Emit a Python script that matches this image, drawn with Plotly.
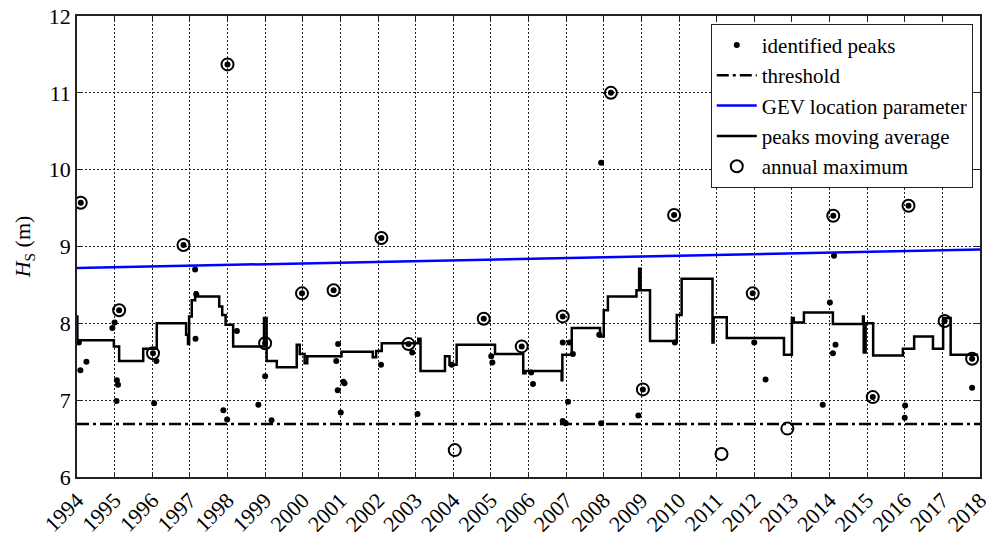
import plotly.graph_objects as go

# ---- data ----
years = list(range(1994, 2019))
y_ticks = [6, 7, 8, 9, 10, 11, 12]

peaks_t = [1994.05, 1994.09, 1994.25, 1994.10, 1994.94, 1995.00, 1995.12, 1995.06, 1995.09,
           1995.05, 1996.02, 1996.11, 1996.05, 1996.83, 1997.14, 1997.15, 1997.17, 1997.89,
           1997.99, 1998.00, 1998.25, 1998.82, 1999.00, 1999.00, 1999.17, 1999.98, 2000.82,
           2000.94, 2000.89, 2000.93, 2001.08, 2001.11, 2001.01, 2002.08, 2002.09, 2002.81,
           2002.91, 2003.05, 2003.96, 2004.81, 2005.01, 2005.04, 2005.82, 2006.07, 2006.12,
           2006.91, 2006.91, 2007.09, 2007.18, 2007.05, 2006.91, 2006.99, 2007.88, 2007.93,
           2007.93, 2008.19, 2008.92, 2009.04, 2009.87, 2009.89, 2011.96, 2012.00, 2012.30,
           2013.82, 2014.01, 2014.10, 2014.12, 2014.16, 2014.09, 2015.15, 2016.01, 2016.00,
           2016.10, 2017.06, 2017.79, 2017.79]
peaks_h = [7.75, 7.39, 7.50, 9.57, 7.94, 8.01, 8.17, 7.26, 7.20,
           6.99, 7.61, 7.51, 6.96, 9.02, 8.70, 7.80, 8.38, 6.87,
           6.75, 11.37, 7.90, 6.94, 7.74, 7.31, 6.74, 8.39, 8.43,
           7.73, 7.51, 7.13, 7.24, 7.22, 6.84, 7.46, 9.11, 7.73,
           7.62, 6.82, 7.46, 8.06, 7.57, 7.49, 7.70, 7.36, 7.21,
           8.09, 7.75, 7.75, 7.60, 6.98, 6.73, 6.70, 7.85, 10.09,
           6.70, 11.00, 6.80, 7.14, 9.41, 7.75, 8.39, 7.75, 7.27,
           6.94, 8.27, 9.40, 8.88, 7.72, 7.61, 7.04, 6.93, 6.77,
           9.53, 8.03, 7.54, 7.16]

threshold = 6.69
gev_t = [1994, 2018]
gev_mu = [8.72, 8.96]

ma_t = [1994.00, 1994.01, 1994.04, 1994.98, 1995.12, 1995.76, 1996.12, 1996.90, 1996.95,
        1996.98, 1997.05, 1997.14, 1997.18, 1997.78, 1997.86, 1997.95, 1998.15, 1998.97,
        1999.04, 1999.31, 1999.84, 1999.92, 2000.05, 2000.12, 2001.03, 2001.86, 2001.95,
        2002.10, 2003.07, 2003.13, 2003.78, 2003.90, 2004.09, 2005.11, 2005.86, 2005.92,
        2006.88, 2006.90, 2007.15, 2007.90, 2008.00, 2008.11, 2008.87, 2008.94, 2008.98,
        2009.23, 2009.94, 2010.07, 2010.89, 2010.92, 2011.27, 2012.79, 2013.00, 2013.05,
        2013.32, 2014.09, 2014.89, 2014.91, 2014.96, 2015.16, 2015.95, 2016.25, 2016.75,
        2017.02, 2017.22, 2017.95]
ma_h = [8.09, 7.74, 7.78, 7.70, 7.51, 7.67, 8.00, 7.85, 7.73,
        8.09, 8.30, 8.40, 8.35, 8.22, 8.11, 7.98, 7.70, 8.07,
        7.51, 7.43, 7.72, 7.60, 7.48, 7.57, 7.63, 7.56, 7.64,
        7.74, 7.80, 7.38, 7.57, 7.46, 7.72, 7.60, 7.35, 7.38,
        7.26, 7.59, 7.94, 7.83, 8.17, 8.35, 8.43, 8.71, 8.43,
        7.77, 8.11, 8.58, 7.75, 8.08, 7.81, 7.59, 8.07, 8.01,
        8.14, 7.99, 8.09, 7.62, 8.00, 7.58, 7.67, 7.83, 7.67,
        8.07, 7.59, 7.59]

amax_t = [1994.10, 1995.12, 1996.02, 1996.83, 1998.00, 1999.00, 1999.98, 2000.82, 2002.09,
          2002.81, 2004.04, 2004.81, 2005.82, 2006.91, 2008.19, 2009.04, 2009.87, 2011.13,
          2011.96, 2012.88, 2014.10, 2015.15, 2016.10, 2017.06, 2017.79]
amax_h = [9.57, 8.17, 7.61, 9.02, 11.37, 7.74, 8.39, 8.43, 9.11,
          7.73, 6.35, 8.06, 7.70, 8.09, 11.00, 7.14, 9.41, 6.30,
          8.39, 6.63, 9.40, 7.04, 9.53, 8.03, 7.54]

FONT = "Liberation Serif"

fig = go.Figure()
fig.add_trace(go.Scatter(x=peaks_t, y=peaks_h, mode="markers", name="identified peaks",
                         marker=dict(color="black", size=6, symbol="circle")))
fig.add_trace(go.Scatter(x=[years[0], years[-1]], y=[threshold, threshold], mode="lines",
                         name="threshold",
                         line=dict(color="black", width=2.5, dash="12px,4px,3px,4px")))
fig.add_trace(go.Scatter(x=gev_t, y=gev_mu, mode="lines", name="GEV location parameter",
                         line=dict(color="#0000ff", width=2.5)))
fig.add_trace(go.Scatter(x=ma_t, y=ma_h, mode="lines", name="peaks moving average",
                         line=dict(color="black", width=2.5, shape="hv")))
fig.add_trace(go.Scatter(x=amax_t, y=amax_h, mode="markers", name="annual maximum",
                         marker=dict(color="black", size=12, symbol="circle-open",
                                     line=dict(color="black", width=2))))

axis_common = dict(showline=True, linecolor="#222", linewidth=1.5, mirror="allticks",
                   ticks="inside", ticklen=5, tickcolor="#222",
                   showgrid=True, gridcolor="#222", gridwidth=1, griddash="2px,2px",
                   zeroline=False, automargin=False, ticklabeloverflow="allow",
                   tickfont=dict(family=FONT, size=22, color="black"))

fig.update_xaxes(range=[1994, 2018], tickvals=years, ticktext=[str(y) for y in years],
                 tickangle=-45, **axis_common)
fig.update_yaxes(range=[6, 12], tickvals=y_ticks, ticktext=[str(v) for v in y_ticks],
                 title=dict(text="<i>H</i><sub>S</sub> (m)", font=dict(family=FONT, size=22, color="black"),
                            standoff=12),
                 **axis_common)

fig.update_layout(
    width=991, height=536,
    margin=dict(l=77, r=11, t=16, b=59),
    plot_bgcolor="white", paper_bgcolor="white",
    font=dict(family=FONT, color="black"),
    legend=dict(x=0.992, y=0.983, xanchor="right", yanchor="top",
                bgcolor="white", bordercolor="#222", borderwidth=1,
                font=dict(family=FONT, size=21, color="black"),
                tracegroupgap=0, itemwidth=40),
    showlegend=True,
)

fig.write_html("out.html", config={"displayModeBar": False},
               post_script="document.body.style.margin='0px';document.body.style.overflow='hidden';")
